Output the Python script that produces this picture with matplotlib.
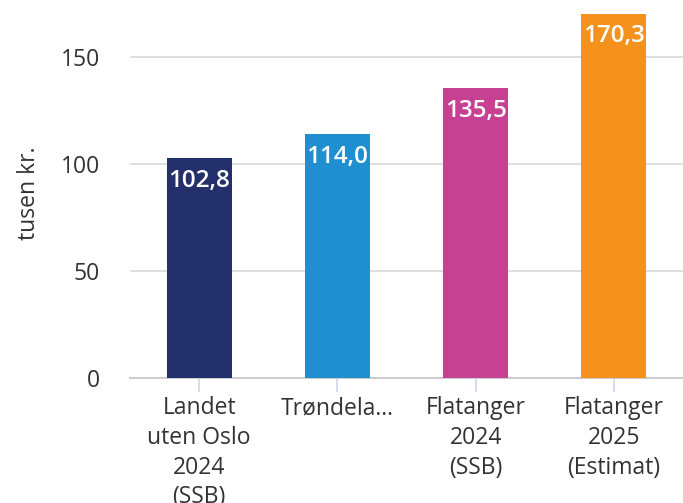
import matplotlib
matplotlib.use("Agg")
import matplotlib.pyplot as plt

categories = ["Landet\nuten Oslo\n2024\n(SSB)", "Trøndela…", "Flatanger\n2024\n(SSB)", "Flatanger\n2025\n(Estimat)"]
values = [102.8, 114.0, 135.5, 170.3]
value_labels = ["102,8", "114,0", "135,5", "170,3"]
colors = ["#23306b", "#1f8fd0", "#c74193", "#f5921e"]
yticks = [0, 50, 100, 150]

plt.rcParams['font.family'] = ["Open Sans", "DejaVu Sans"]

fig = plt.figure(figsize=(6.83, 5.03), dpi=100)
ax = fig.add_axes([130/683, 1 - 378/503, 553/683, 370/503])

x = list(range(len(values)))
ax.bar(x, values, width=0.47, color=colors, zorder=3)
for xi, v, lab in zip(x, values, value_labels):
    ax.text(xi, v - 5, lab, ha="center", va="top", color="white",
            fontsize=17.5, fontweight="semibold", zorder=4)

ax.set_xlim(-0.5, len(values) - 0.5)
ax.set_ylim(0, 370 * 50 / 107)
ax.set_yticks(yticks)
ax.set_yticklabels([str(t) for t in yticks], fontsize=16.5, color="#333333")
ax.yaxis.grid(True, color="#d9d9d9", linewidth=1.2, zorder=0)
ax.set_axisbelow(True)
ax.tick_params(axis="y", length=0, pad=21.5)
ax.set_xticks(x)
ax.set_xticklabels(categories, fontsize=16.5, color="#333333", linespacing=1.32)
ax.tick_params(axis="x", length=10, color="#ccd6eb", width=1.2, pad=3)
for s in ["top", "right", "left"]:
    ax.spines[s].set_visible(False)
ax.spines["bottom"].set_color("#cccccc")
ax.spines["bottom"].set_linewidth(1.5)
ax.set_ylabel("tusen kr.", fontsize=16.5, color="#333333", labelpad=14)

fig.savefig("out.png", dpi=100)
